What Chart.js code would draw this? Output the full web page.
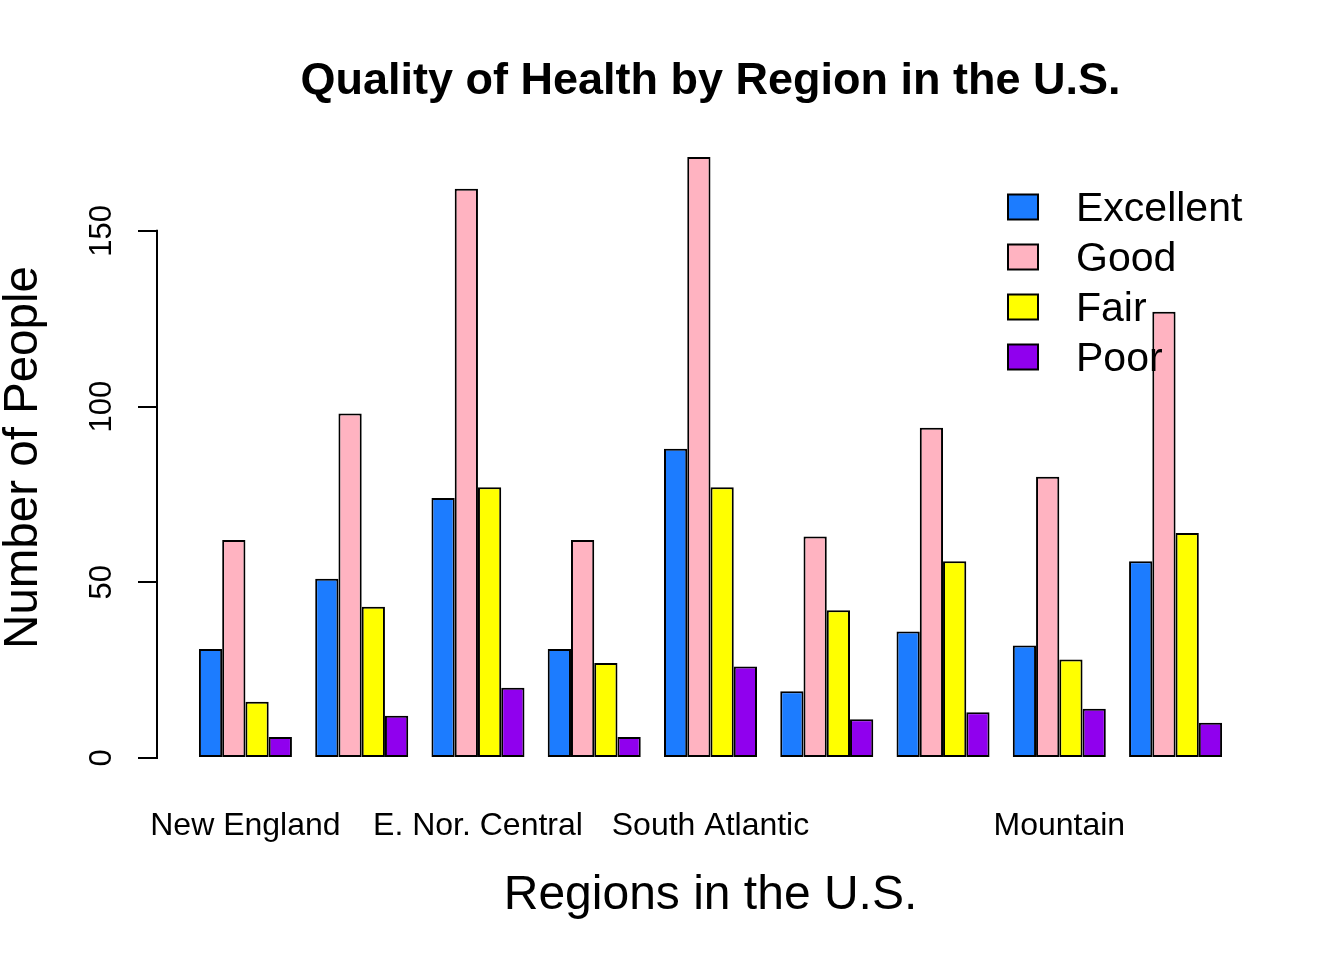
<!DOCTYPE html>
<html>
<head>
<meta charset="utf-8">
<title>Quality of Health by Region in the U.S.</title>
<script src="https://cdn.jsdelivr.net/npm/chart.js@4.4.1/dist/chart.umd.min.js"></script>
<style>
  html, body { margin: 0; padding: 0; background: #fff; }
  canvas { display: block; }
</style>
</head>
<body>
<canvas id="chart" width="1344" height="960"></canvas>
<script>
const regions = ['New England', 'Middle Atlantic', 'E. Nor. Central', 'W. Nor. Central',
  'South Atlantic', 'E. Sou. Central', 'W. Sou. Central', 'Mountain', 'Pacific'];
// labels that overlap a neighbour are not drawn in the original
const regionTickLabels = ['New England', '', 'E. Nor. Central', '', 'South Atlantic', '', '', 'Mountain', ''];
const healthLevels = ['Excellent', 'Good', 'Fair', 'Poor'];
const excellent = [31, 51, 74, 31, 88, 19, 36, 32, 56];
const good = [62, 98, 162, 62, 171, 63, 94, 80, 127];
const fair = [16, 43, 77, 27, 77, 42, 56, 28, 64];
const poor = [6, 12, 20, 6, 26, 11, 13, 14, 10];
const yTicks = [0, 50, 100, 150];

const FONT = '"Liberation Sans", Arial, Helvetica, sans-serif';
const colors = ['#1C7CFF', '#FFB3C1', '#FFFF00', '#9000EE'];
const series = [excellent, good, fair, poor];

// y axis line only spans the tick range, like R's axis()
const axisLinePlugin = {
  id: 'axisLine',
  afterDraw(chart) {
    const y = chart.scales.y;
    const ctx = chart.ctx;
    ctx.save();
    ctx.strokeStyle = '#000';
    ctx.lineWidth = 2;
    ctx.lineCap = 'square';
    ctx.beginPath();
    ctx.moveTo(y.right - 1, y.getPixelForValue(yTicks[0]));
    ctx.lineTo(y.right - 1, y.getPixelForValue(yTicks[yTicks.length - 1]));
    ctx.stroke();
    ctx.restore();
  }
};

// borderless legend in the top right of the plot
const legendPlugin = {
  id: 'rLegend',
  afterDraw(chart) {
    const ctx = chart.ctx;
    ctx.save();
    ctx.font = '41px ' + FONT;
    ctx.textBaseline = 'middle';
    chart.data.datasets.forEach((ds, i) => {
      const cy = 207 + i * 50;
      ctx.fillStyle = ds.backgroundColor;
      ctx.fillRect(1008, cy - 12.5, 30, 25);
      ctx.strokeStyle = '#000';
      ctx.lineWidth = 2;
      ctx.strokeRect(1008, cy - 12.5, 30, 25);
      ctx.fillStyle = '#000';
      ctx.fillText(ds.label, 1076, cy + 3);
    });
    ctx.restore();
  }
};

new Chart(document.getElementById('chart'), {
  type: 'bar',
  data: {
    datasets: healthLevels.map((name, k) => ({
      label: name,
      data: series[k].map((v, i) => ({ x: i, y: v })),
      backgroundColor: colors[k],
    }))
  },
  options: {
    responsive: false,
    animation: false,
    devicePixelRatio: 1,
    layout: { padding: { left: 0, right: 81, top: 0, bottom: 0 } },
    datasets: {
      bar: {
        categoryPercentage: 0.8, barPercentage: 1,
        borderColor: '#000', borderWidth: 2, borderSkipped: false,
      }
    },
    plugins: {
      legend: { display: false },
      tooltip: { enabled: false },
      title: {
        display: true,
        fullSize: false,
        text: 'Quality of Health by Region in the U.S.',
        color: '#000',
        font: { family: FONT, size: 45, weight: 'bold', lineHeight: 1 },
        padding: { top: 59, bottom: 29 },
      },
    },
    scales: {
      x: {
        type: 'linear',
        offset: false,
        min: -0.752, max: 8.752,
        afterBuildTicks: s => { s.ticks = regions.map((_, i) => ({ value: i })); },
        afterFit: s => { s.height = 178; },
        grid: { display: false },
        border: { display: false },
        ticks: {
          autoSkip: false, maxRotation: 0, minRotation: 0, padding: 17,
          color: '#000', font: { family: FONT, size: 32 },
          callback: v => regionTickLabels[v] ?? '',
        },
        title: {
          display: true, text: 'Regions in the U.S.', color: '#000',
          font: { family: FONT, size: 48, lineHeight: 1 }, padding: { top: 0, bottom: 40 },
        },
      },
      y: {
        min: -6.84, max: 177.84,
        afterBuildTicks: s => { s.ticks = yTicks.map(v => ({ value: v })); },
        afterFit: s => { s.width = 158; },
        grid: { drawOnChartArea: false, drawTicks: true, tickLength: 20, color: '#000', lineWidth: 2 },
        border: { display: false },
        ticks: {
          minRotation: 90, maxRotation: 90, crossAlign: 'center', padding: 10,
          color: '#000', font: { family: FONT, size: 31 },
        },
        title: {
          display: true, text: 'Number of People', color: '#000',
          font: { family: FONT, size: 47.5, lineHeight: 1 }, padding: { top: 0, bottom: 0 },
        },
      },
    },
  },
  plugins: [axisLinePlugin, legendPlugin],
});
</script>
</body>
</html>
